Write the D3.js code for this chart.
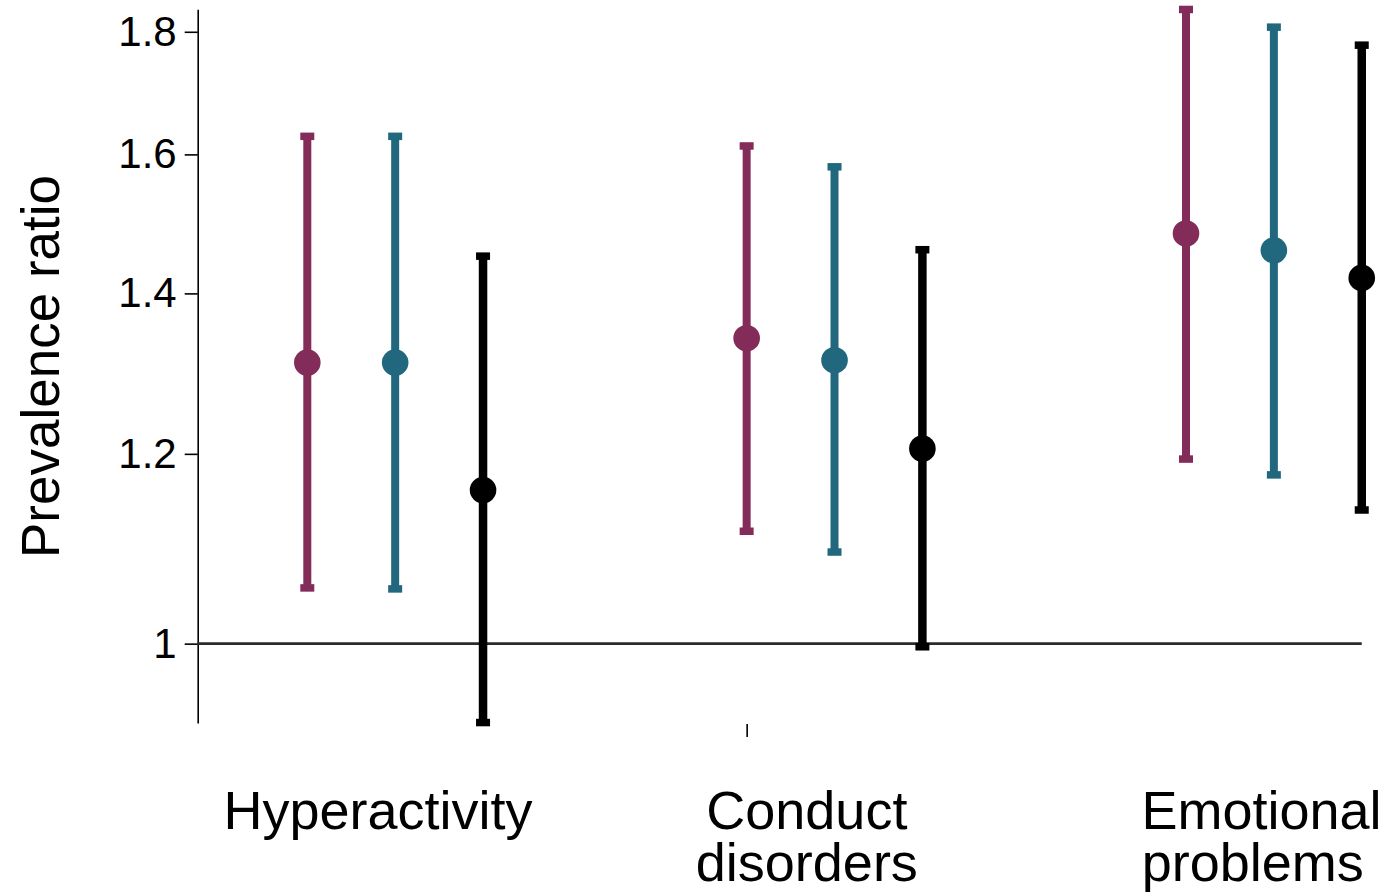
<!DOCTYPE html>
<html>
<head>
<meta charset="utf-8">
<script src="https://cdn.jsdelivr.net/npm/d3@7"></script>
<style>
  html, body { margin: 0; padding: 0; background: #fff; }
  svg { display: block; font-family: "Liberation Sans", Arial, Helvetica, sans-serif; }
</style>
</head>
<body>
<svg id="chart" width="1389" height="892"></svg>
<script>
// Outcome categories (two-line labels)
const categories = [["Hyperactivity"], ["Conduct", "disorders"], ["Emotional", "problems"]];

// Three model series: prevalence ratio estimates with 95% CI
const seriesNames = ["model1", "model2", "model3"];
const seriesColors = ["#842c59", "#21677e", "#000000"];

const model1Est = [1.310, 1.341, 1.483];
const model1Low = [1.055, 1.114, 1.194];
const model1High = [1.628, 1.613, 1.839];

const model2Est = [1.310, 1.313, 1.459];
const model2Low = [1.054, 1.092, 1.176];
const model2High = [1.628, 1.581, 1.808];

const model3Est = [1.159, 1.206, 1.421];
const model3Low = [0.927, 0.997, 1.137];
const model3High = [1.451, 1.460, 1.777];

const yTicks = [1, 1.2, 1.4, 1.6, 1.8];
const yTitle = "Prevalence ratio";

const estimates = [model1Est, model2Est, model3Est];
const lows = [model1Low, model2Low, model3Low];
const highs = [model1High, model2High, model3High];

const points = [];
seriesNames.forEach((s, si) => {
  categories.forEach((c, ci) => {
    points.push({ series: si, cat: ci, est: estimates[si][ci], lo: lows[si][ci], hi: highs[si][ci] });
  });
});

const svg = d3.select("#chart");

// Horizontal position: each category at an integer, series shifted by 0.2
const seriesShift = 0.2;
const x = d3.scaleLinear().domain([1, 3]).range([307.3, 1186]);
const xPos = d => x(d.cat + 1 + d.series * seriesShift);

// Log-scaled prevalence ratio axis
const y = d3.scaleLog().domain([0.9266, 1.8393]).range([723, 9.3]);

// Y axis
const yAxis = d3.axisLeft(y)
  .tickValues(yTicks)
  .tickFormat(d => d === 1 ? "1" : d3.format(".1f")(d))
  .tickSize(13)
  .tickSizeOuter(0)
  .tickPadding(8);

const gy = svg.append("g")
  .attr("transform", "translate(197.7,0)")
  .call(yAxis);
gy.select(".domain").attr("stroke", "#000").attr("stroke-width", 1.6);
gy.selectAll(".tick line").attr("stroke", "#000").attr("stroke-width", 1.6);
gy.selectAll(".tick text").attr("font-size", 42).attr("fill", "#000")
  .attr("font-family", "'Liberation Sans', Arial, sans-serif");

// X axis: single tick, no labels or baseline
const xAxis = d3.axisBottom(x).tickValues([2]).tickFormat("").tickSize(13).tickSizeOuter(0);
const gx = svg.append("g").attr("transform", `translate(0,${y.range()[0] + 1})`).call(xAxis);
gx.select(".domain").remove();
gx.selectAll(".tick line").attr("stroke", "#000").attr("stroke-width", 1.6);

// Reference line at ratio 1
svg.append("line")
  .attr("x1", 197.7).attr("x2", x(3 + 2 * seriesShift))
  .attr("y1", y(1)).attr("y2", y(1))
  .attr("stroke", "#2b2b2b").attr("stroke-width", 2.6);

// Error bars
const capW = 14, capH = 7.5;
const bars = svg.append("g").selectAll("g").data(points).join("g");
bars.append("line")
  .attr("x1", xPos).attr("x2", xPos)
  .attr("y1", d => y(d.hi)).attr("y2", d => y(d.lo))
  .attr("stroke", d => seriesColors[d.series])
  .attr("stroke-width", d => d.series === 2 ? 8.5 : 8);
bars.append("rect")
  .attr("x", d => xPos(d) - capW / 2).attr("y", d => y(d.hi) - capH / 2)
  .attr("width", capW).attr("height", capH)
  .attr("fill", d => seriesColors[d.series]);
bars.append("rect")
  .attr("x", d => xPos(d) - capW / 2).attr("y", d => y(d.lo) - capH / 2)
  .attr("width", capW).attr("height", capH)
  .attr("fill", d => seriesColors[d.series]);
bars.append("circle")
  .attr("cx", xPos).attr("cy", d => y(d.est))
  .attr("r", 13.3)
  .attr("fill", d => seriesColors[d.series]);

// Category labels under the plot, one centre per line
const labelCenters = [[1.161], [2.137, 2.137], [3.172, 3.152]];
const lineGap = 52;
const labelG = svg.append("g");
categories.forEach((lines, i) => {
  lines.forEach((ln, j) => {
    labelG.append("text")
      .attr("x", x(labelCenters[i][j]))
      .attr("y", 829 + j * lineGap)
      .attr("text-anchor", "middle")
      .attr("font-size", 54)
      .attr("fill", "#000")
      .text(ln);
  });
});

// Y axis title
svg.append("text")
  .attr("transform", `translate(59,366.5) rotate(-90)`)
  .attr("text-anchor", "middle")
  .attr("font-size", 53)
  .attr("fill", "#000")
  .text(yTitle);
</script>
</body>
</html>
